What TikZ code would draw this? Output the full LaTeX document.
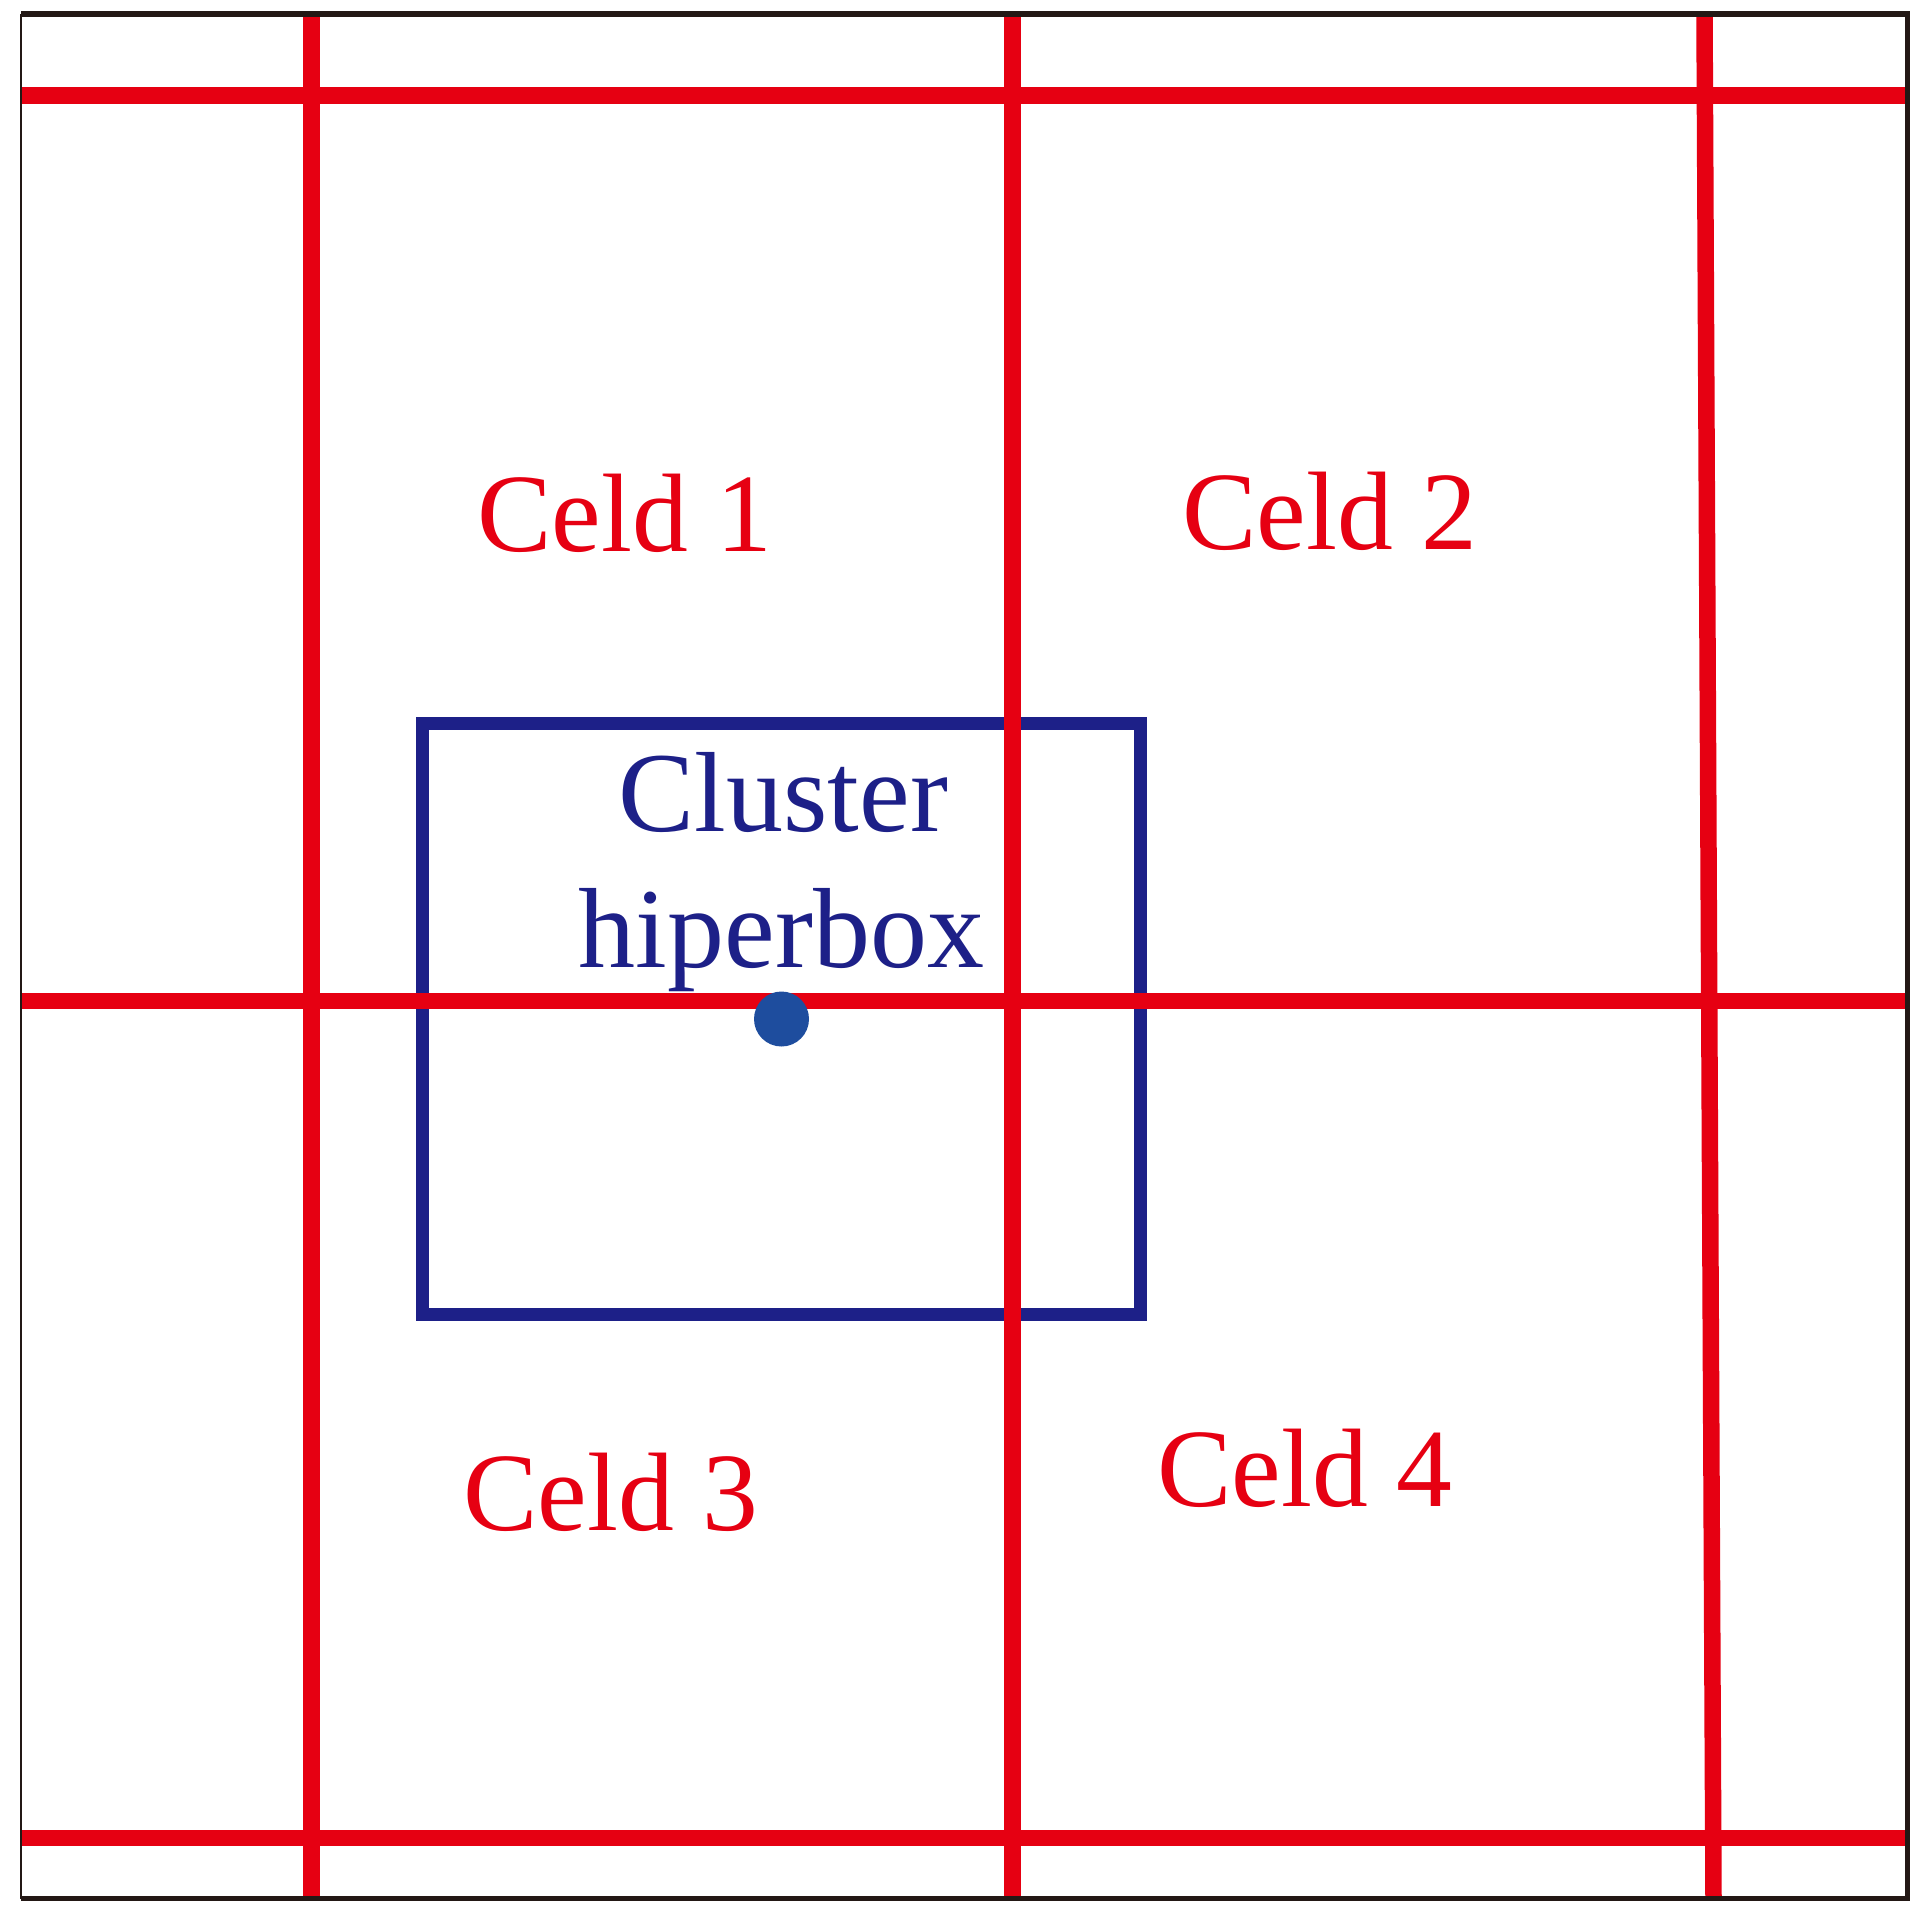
\documentclass[tikz,border=0pt]{standalone}
\usepackage{fontspec}
\setmainfont{Liberation Serif}
\definecolor{celdred}{RGB}{230,0,18}
\definecolor{boxnavy}{RGB}{29,32,136}
\definecolor{dotblue}{RGB}{30,77,158}
\definecolor{framebk}{RGB}{35,24,21}
\begin{document}
\begin{tikzpicture}[x=0.5pt,y=-0.5pt,
  gridline/.style={celdred, line width=8.25pt},
  celdlabel/.style={font=\fontsize{55.8}{67}\selectfont, text=celdred, anchor=base west, inner sep=0pt},
  boxlabel/.style={font=\fontsize{57}{68}\selectfont, text=boxnavy, anchor=base, inner sep=0pt}]
\useasboundingbox (0,0) rectangle (1928,1922);
\draw[boxnavy, line width=6.5pt] (422.5,723.5) rectangle (1140.5,1314.5);
\draw[gridline] (21,95.5) -- (1907.5,95.5);
\draw[gridline] (21,1001) -- (1907.5,1001);
\draw[gridline] (21,1838) -- (1907.5,1838);
\draw[gridline] (311.5,14) -- (311.5,1898.7);
\draw[gridline] (1012.5,14) -- (1012.5,1898.7);
\draw[gridline] (1704.5,14) -- (1713.5,1898.7);
\draw[framebk, line width=2.75pt] (21,14) -- (1907.5,14) -- (1907.5,1898.7) -- (21,1898.7);
\draw[framebk, line width=1pt] (21,14) -- (21,1898.7);
\fill[dotblue] (781.5,1019) circle[radius=13.75pt];
\node[celdlabel] (celd1) at (477,551) {Celd 1};
\node[celdlabel] (celd2) at (1182,549) {Celd 2};
\node[celdlabel] (celd3) at (463,1530) {Celd 3};
\node[celdlabel] (celd4) at (1157,1506) {Celd 4};
\node[boxlabel] (clus) at (783.5,831) {Cluster};
\node[boxlabel] (hiper) at (781.5,967.5) {hiperbox};
\end{tikzpicture}
\end{document}
